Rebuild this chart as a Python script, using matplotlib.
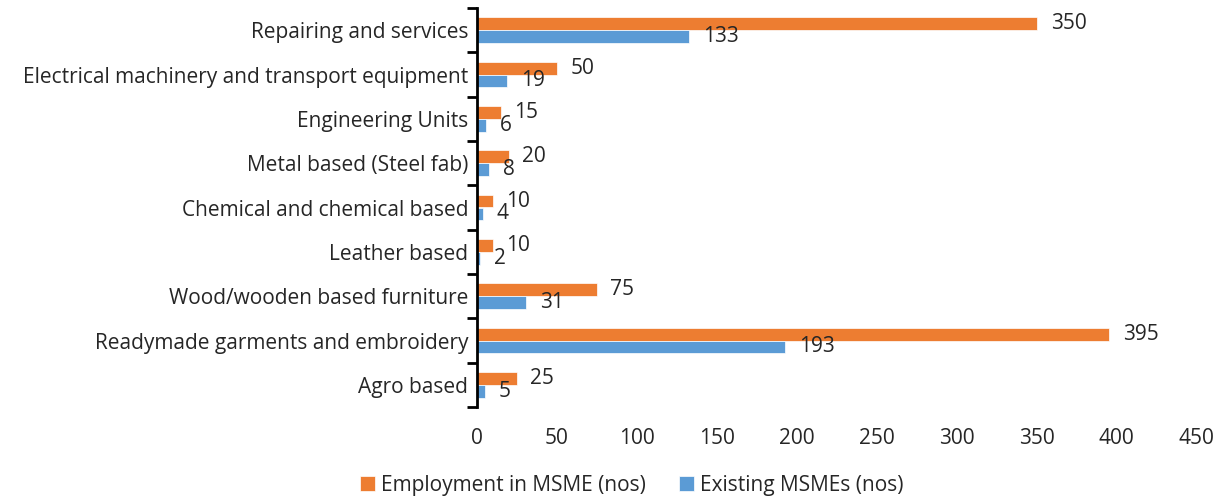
import numpy as np
import matplotlib
matplotlib.use("Agg")
import matplotlib.pyplot as plt

# categories top -> bottom as shown
categories = [
    "Repairing and services",
    "Electrical machinery and transport equipment",
    "Engineering Units",
    "Metal based (Steel fab)",
    "Chemical and chemical based",
    "Leather based",
    "Wood/wooden based furniture",
    "Readymade garments and embroidery",
    "Agro based",
]
employment = [350, 50, 15, 20, 10, 10, 75, 395, 25]
existing = [133, 19, 6, 8, 4, 2, 31, 193, 5]

orange = "#ED7D31"
blue = "#5B9BD5"
fs = 15

plt.rcParams["font.family"] = ["Open Sans", "DejaVu Sans"]

fig = plt.figure(figsize=(12.25, 5), dpi=100)
ax = fig.add_axes([0.389, 0.186, 0.588, 0.798])

y = np.arange(len(categories))
h = 0.29
b1 = ax.barh(y - h / 2, employment, height=h, color=orange, edgecolor="white",
             linewidth=0.5, label="Employment in MSME (nos)")
b2 = ax.barh(y + h / 2, existing, height=h, color=blue, edgecolor="white",
             linewidth=0.5, label="Existing MSMEs (nos)")

# value labels just past the bar ends
for bars, vals in ((b1, employment), (b2, existing)):
    for rect, v in zip(bars, vals):
        ax.annotate(str(v), (rect.get_width(), rect.get_y() + rect.get_height() / 2),
                    xytext=(10, 0), textcoords="offset points",
                    ha="left", va="center", fontsize=fs, color="#262626")

ax.set_xlim(0, 450)
ax.set_xticks(np.arange(0, 451, 50))
ax.set_ylim(len(categories) - 0.5, -0.5)
ax.set_yticks(y)
ax.set_yticklabels(categories)
ax.set_yticks(np.arange(-0.5, len(categories)), minor=True)

ax.tick_params(axis="y", which="major", length=0, pad=6, labelsize=fs, labelcolor="#262626")
ax.tick_params(axis="y", which="minor", length=7, width=2, color="black")
ax.tick_params(axis="x", length=0, pad=15, labelsize=fs, labelcolor="#262626")

for s in ("top", "right", "bottom"):
    ax.spines[s].set_visible(False)
ax.spines["left"].set_linewidth(2)
ax.spines["left"].set_color("black")

fig.legend(handles=[b1, b2], loc="center", bbox_to_anchor=(0.516, 0.03), ncol=2,
           frameon=False, fontsize=fs, handlelength=0.7, handleheight=0.7,
           handletextpad=0.3, columnspacing=1.6, labelcolor="#262626")

fig.savefig("out.png", dpi=100)
